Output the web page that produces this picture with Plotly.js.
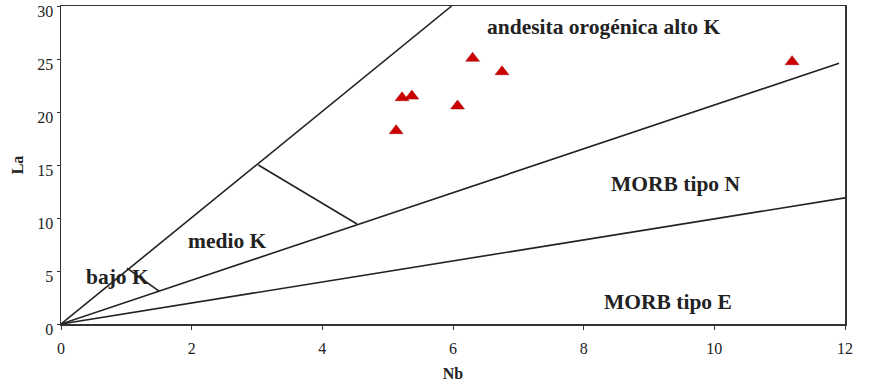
<!DOCTYPE html>
<html>
<head>
<meta charset="utf-8">
<script src="https://cdn.plot.ly/plotly-3.0.1.min.js"></script>
<style>html,body{margin:0;padding:0;background:#fff;}#chart{width:871px;height:383px;}</style>
</head>
<body>
<div id="chart"></div>
<script>
// Sample data (red triangles)
const sampleNb = [6.30, 6.75, 5.22, 5.37, 6.07, 5.13, 11.19];
const sampleLa = [25.07, 23.8, 21.35, 21.5, 20.57, 18.24, 24.75];

// Field boundary lines (Nb, La)
const lineHighX = [0, 5.98];   const lineHighY = [0, 30];
const lineMidX  = [0, 11.91];  const lineMidY  = [0, 24.6];
const lineLowX  = [0, 12];     const lineLowY  = [0, 11.9];
const segMedioX = [3.02, 4.53]; const segMedioY = [15.0, 9.43];
const segBajoX  = [1.01, 1.5];  const segBajoY  = [5.28, 3.11];

// Field labels
const fieldLabels = ["andesita orogénica alto K", "MORB tipo N", "MORB tipo E", "medio K", "bajo K"];
const fieldLabelX = [8.30, 9.40, 9.29, 2.55, 0.86];
const fieldLabelY = [28.0, 13.2, 2.08, 7.86, 4.46];

const xTicks = [0, 2, 4, 6, 8, 10, 12];
const yTicks = [0, 5, 10, 15, 20, 25, 30];

const lineStyle = {color: '#222', width: 1.6};
const lines = [
  [lineHighX, lineHighY], [lineMidX, lineMidY], [lineLowX, lineLowY],
  [segMedioX, segMedioY], [segBajoX, segBajoY]
].map(([x, y]) => ({x, y, type: 'scatter', mode: 'lines', line: lineStyle, hoverinfo: 'skip', showlegend: false}));

const pts = {
  x: sampleNb, y: sampleLa, type: 'scatter', mode: 'markers',
  marker: {symbol: 'triangle-up', size: 12, color: '#cc0000', line: {color: '#a00000', width: 0.5}},
  showlegend: false
};

const serif = 'Liberation Serif, Times New Roman, serif';
const annotations = fieldLabels.map((t, i) => ({
  text: '<b>' + t + '</b>', x: fieldLabelX[i], y: fieldLabelY[i], xref: 'x', yref: 'y',
  showarrow: false, font: {family: serif, size: 21.5, color: '#222'}, xanchor: 'center', yanchor: 'middle'
}));

const layout = {
  width: 871, height: 383,
  margin: {l: 61, r: 26, t: 6, b: 59},
  paper_bgcolor: '#fff', plot_bgcolor: '#fff',
  showlegend: false,
  font: {family: serif, color: '#222'},
  xaxis: {
    range: [0, 12], tickvals: xTicks, ticktext: xTicks.map(String),
    showgrid: false, zeroline: false, showline: true, linecolor: '#333', linewidth: 1.5, mirror: true,
    ticks: 'outside', ticklen: 4, tickcolor: '#333', tickfont: {family: serif, size: 16, color: '#222'},
    ticklabelstandoff: 5, ticklabeloverflow: 'allow',
    title: {text: '<b>Nb</b>', font: {family: serif, size: 16, color: '#222'}, standoff: 12}
  },
  yaxis: {
    range: [0, 30], tickvals: yTicks, ticktext: yTicks.map(String),
    showgrid: false, zeroline: false, showline: true, linecolor: '#333', linewidth: 1.5, mirror: true,
    ticks: 'outside', ticklen: 3, tickcolor: '#333', tickfont: {family: serif, size: 16, color: '#222'},
    ticklabeloverflow: 'allow', ticklabelshift: 5,
    title: {text: '<b>La</b>', font: {family: serif, size: 16, color: '#222'}, standoff: 9}
  },
  annotations: annotations
};

Plotly.newPlot('chart', lines.concat([pts]), layout, {displayModeBar: false, staticPlot: true});
</script>
</body>
</html>
